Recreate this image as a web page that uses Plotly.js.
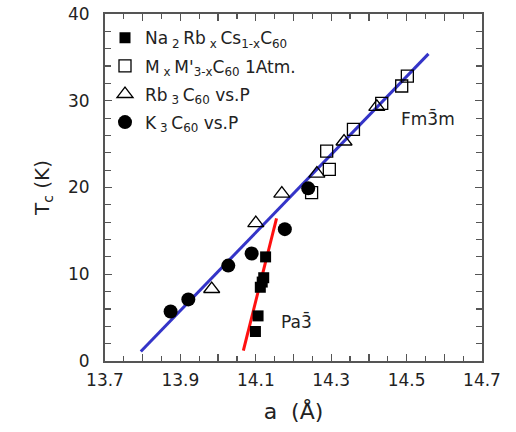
<!DOCTYPE html>
<html>
<head>
<meta charset="utf-8">
<script src="https://cdn.plot.ly/plotly-3.0.1.min.js"></script>
<style>html,body{margin:0;padding:0;background:#fff;}#chart{width:516px;height:432px;}</style>
</head>
<body>
<div id="chart"></div>
<script>
// Na2RbxCs1-xC60 (filled squares)
const naA = [14.126, 14.121, 14.117, 14.112, 14.106, 14.099];
const naT = [12.0, 9.6, 9.1, 8.5, 5.2, 3.4];
// MxM'3-xC60 1 Atm (open squares)
const mA = [14.248, 14.295, 14.288, 14.359, 14.434, 14.487, 14.502];
const mT = [19.4, 22.1, 24.2, 26.7, 29.7, 31.7, 32.85];
// Rb3C60 vs P (open triangles)
const rbA = [13.983, 14.100, 14.169, 14.262, 14.334, 14.421];
const rbT = [8.3, 15.9, 19.3, 21.6, 25.3, 29.3];
// K3C60 vs P (filled circles)
const kA = [13.874, 13.921, 14.027, 14.089, 14.177, 14.239];
const kT = [5.7, 7.1, 11.0, 12.4, 15.2, 19.9];
// fit lines
const blueA = [13.795, 14.558];
const blueT = [1.1, 35.4];
const redA = [14.067, 14.155];
const redT = [1.2, 16.45];
// tick labels
const xTicks = [13.7, 13.8, 13.9, 14.0, 14.1, 14.2, 14.3, 14.4, 14.5, 14.6, 14.7];
const xTickText = ['13.7', '', '13.9', '', '14.1', '', '14.3', '', '14.5', '', '14.7'];
const yTicks = [0, 10, 20, 30, 40];

const F = 'DejaVu Sans, Verdana, sans-serif';
const traces = [
  {x: blueA, y: blueT, mode: 'lines', line: {color: '#3434c8', width: 3}, showlegend: false, hoverinfo: 'skip'},
  {x: redA, y: redT, mode: 'lines', line: {color: '#ff1010', width: 3}, showlegend: false, hoverinfo: 'skip'},
  {x: naA, y: naT, mode: 'markers', name: 'Na<sub> 2 </sub>Rb<sub> x </sub>Cs<sub>1-x</sub>C<sub>60</sub>',
   marker: {symbol: 'square', size: 11, color: '#000'}, legendgroup: 'a'},
  {x: mA, y: mT, mode: 'markers', name: "M<sub> x </sub>M'<sub>3-x</sub>C<sub>60</sub> 1Atm.",
   marker: {symbol: 'square-open', size: 12, color: '#000', line: {width: 1.3}}, legendgroup: 'b'},
  {x: rbA, y: rbT, mode: 'markers', name: 'Rb<sub> 3 </sub>C<sub>60</sub> vs.P',
   marker: {symbol: 'triangle-up-open', size: 14, color: '#000', line: {width: 1.3}}, legendgroup: 'c'},
  {x: kA, y: kT, mode: 'markers', name: 'K<sub> 3 </sub>C<sub>60</sub> vs.P',
   marker: {symbol: 'circle', size: 14, color: '#000'}, legendgroup: 'd'}
];

const axCommon = {
  showline: true, linecolor: '#555', linewidth: 2, mirror: 'ticks',
  ticks: 'inside', ticklen: 7, tickwidth: 1.3, tickcolor: '#555',
  showgrid: false, zeroline: false,
  tickfont: {family: F, size: 17, color: '#222'}
};

const layout = {
  width: 516, height: 432,
  margin: {l: 105, r: 34, t: 14, b: 71},
  paper_bgcolor: '#fff', plot_bgcolor: '#fff',
  font: {family: F, color: '#222'},
  showlegend: true,
  legend: {x: 0.0, y: 0.982, xanchor: 'left', yanchor: 'top', bgcolor: 'rgba(0,0,0,0)',
    font: {family: F, size: 17, color: '#222'}, tracegroupgap: 3, traceorder: 'grouped'},
  xaxis: Object.assign({}, axCommon, {
    range: [13.7, 14.7], tickmode: 'array', tickvals: xTicks, ticktext: xTickText,
    ticklabelstandoff: 3,
    minor: {dtick: 0.05, ticklen: 5, tickwidth: 1.2, tickcolor: '#555', ticks: 'inside'},
    title: {text: 'a  (Å)', font: {family: F, size: 22, color: '#222'}, standoff: 14}
  }),
  yaxis: Object.assign({}, axCommon, {
    range: [0, 40], tickmode: 'array', tickvals: yTicks,
    ticklabelstandoff: 10,
    minor: {dtick: 2, ticklen: 6, tickwidth: 1.2, tickcolor: '#555', ticks: 'inside'},
    title: {text: 'T<sub>c</sub> (K)', font: {family: F, size: 20, color: '#222'}, standoff: 13}
  }),
  annotations: [
    {x: 14.557, y: 28.0, xref: 'x', yref: 'y', text: 'Fm3\u0304m', showarrow: false,
     font: {family: F, size: 17, color: '#222'}},
    {x: 14.209, y: 4.5, xref: 'x', yref: 'y', text: 'Pa3\u0304', showarrow: false,
     font: {family: F, size: 17, color: '#222'}}
  ]
};

Plotly.newPlot('chart', traces, layout, {displayModeBar: false, staticPlot: true});
</script>
</body>
</html>
